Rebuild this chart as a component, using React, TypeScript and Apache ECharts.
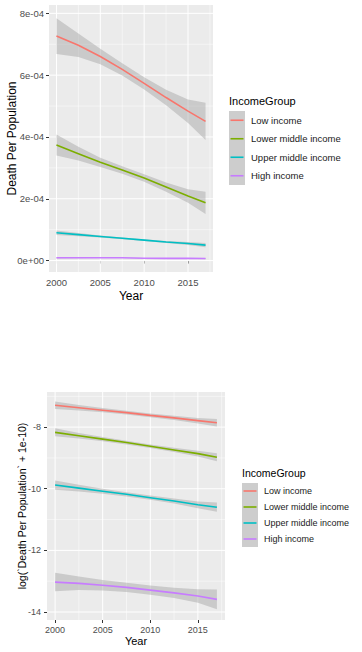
import React, { useEffect, useRef } from 'react';
import * as echarts from 'echarts';

const groups = ['Low income', 'Lower middle income', 'Upper middle income', 'High income'];
const groupColors = ['#F8766D', '#7CAE00', '#00BFC4', '#C77CFF'];
const legendTitle = 'IncomeGroup';
const years = [2000, 2002.5, 2005, 2007.5, 2010, 2012.5, 2015, 2017];

// Top chart: Death Per Population (loess fit and half-width of CI band)
const rateLow = [7.265e-4, 6.965e-4, 6.605e-4, 6.185e-4, 5.735e-4, 5.275e-4, 4.835e-4, 4.505e-4];
const rateLowSe = [0.58e-4, 0.38e-4, 0.25e-4, 0.2e-4, 0.2e-4, 0.25e-4, 0.38e-4, 0.6e-4];
const rateLowerMid = [3.74e-4, 3.46e-4, 3.18e-4, 2.93e-4, 2.67e-4, 2.38e-4, 2.09e-4, 1.87e-4];
const rateLowerMidSe = [0.34e-4, 0.22e-4, 0.15e-4, 0.12e-4, 0.12e-4, 0.15e-4, 0.22e-4, 0.36e-4];
const rateUpperMid = [0.9e-4, 0.84e-4, 0.78e-4, 0.72e-4, 0.66e-4, 0.6e-4, 0.55e-4, 0.5e-4];
const rateUpperMidSe = [0.07e-4, 0.05e-4, 0.035e-4, 0.03e-4, 0.03e-4, 0.035e-4, 0.05e-4, 0.07e-4];
const rateHigh = [0.09e-4, 0.09e-4, 0.09e-4, 0.09e-4, 0.075e-4, 0.07e-4, 0.07e-4, 0.065e-4];
const rateHighSe = [0.02e-4, 0.015e-4, 0.01e-4, 0.01e-4, 0.01e-4, 0.01e-4, 0.015e-4, 0.02e-4];

// Bottom chart: log(Death Per Population + 1e-10)
const logLow = [-7.29, -7.37, -7.45, -7.53, -7.62, -7.7, -7.79, -7.86];
const logLowSe = [0.12, 0.09, 0.07, 0.06, 0.06, 0.07, 0.09, 0.12];
const logLowerMid = [-8.17, -8.28, -8.39, -8.5, -8.62, -8.74, -8.86, -8.98];
const logLowerMidSe = [0.13, 0.09, 0.07, 0.06, 0.06, 0.07, 0.09, 0.13];
const logUpperMid = [-9.88, -9.98, -10.08, -10.18, -10.29, -10.4, -10.52, -10.6];
const logUpperMidSe = [0.15, 0.11, 0.08, 0.07, 0.07, 0.08, 0.11, 0.15];
const logHigh = [-13.03, -13.07, -13.13, -13.2, -13.29, -13.38, -13.48, -13.59];
const logHighSe = [0.3, 0.22, 0.17, 0.15, 0.15, 0.17, 0.22, 0.32];

// Ticks
const xTicks = [2000, 2005, 2010, 2015];
const xTickLabels = ['2000', '2005', '2010', '2015'];
const xMinor = [2002.5, 2007.5, 2012.5, 2017.5];
const topYTicks = [0, 2e-4, 4e-4, 6e-4, 8e-4];
const topYTickLabels = ['0e+00', '2e-04', '4e-04', '6e-04', '8e-04'];
const topYMinor = [1e-4, 3e-4, 5e-4, 7e-4];
const logYTicks = [-14, -12, -10, -8];
const logYTickLabels = ['-14', '-12', '-10', '-8'];
const logYMinor = [-13, -11, -9, -7];

const FONT = '"Liberation Sans", Arial, sans-serif';

function labelFor(ticks: number[], labels: string[]) {
  return (v: number) => {
    const span = Math.max(...ticks.map(Math.abs)) || 1;
    const i = ticks.findIndex((t) => Math.abs(t - v) < span * 1e-6);
    return i >= 0 ? labels[i] : '';
  };
}

export default function App() {
  const ref = useRef<HTMLDivElement>(null);

  useEffect(() => {
    if (!ref.current) return;
    const chart = echarts.init(ref.current, undefined, { renderer: 'svg' });

    const charts = [
      {
        fits: [rateLow, rateLowerMid, rateUpperMid, rateHigh],
        ses: [rateLowSe, rateLowerMidSe, rateUpperMidSe, rateHighSe],
        yMinor: topYMinor,
        yMajor: topYTicks,
        refY: topYTicks[0],
      },
      {
        fits: [logLow, logLowerMid, logUpperMid, logHigh],
        ses: [logLowSe, logLowerMidSe, logUpperMidSe, logHighSe],
        yMinor: logYMinor,
        yMajor: logYTicks,
        refY: logYTicks[0],
      },
    ];

    const series: any[] = [];
    charts.forEach((c, ci) => {
      // grid lines: [orientation (0 vertical / 1 horizontal), value, width]
      const gridRows: number[][] = [
        ...xMinor.map((v) => [0, v, 0.5]),
        ...c.yMinor.map((v) => [1, v, 0.5]),
        ...xTicks.map((v) => [0, v, 1]),
        ...c.yMajor.map((v) => [1, v, 1]),
      ];
      series.push({
        type: 'custom',
        name: `grid-${ci}`,
        xAxisIndex: ci,
        yAxisIndex: ci,
        silent: true,
        z: 1,
        data: gridRows.map(() => [xTicks[0], c.refY]),
        renderItem: (params: any, api: any) => {
          const row = gridRows[params.dataIndex];
          const cs = params.coordSys;
          if (row[0] === 0) {
            const x = api.coord([row[1], c.refY])[0];
            return {
              type: 'line',
              shape: { x1: x, y1: cs.y, x2: x, y2: cs.y + cs.height },
              style: { stroke: '#FFFFFF', lineWidth: row[2] },
            };
          }
          const y = api.coord([xTicks[0], row[1]])[1];
          return {
            type: 'line',
            shape: { x1: cs.x, y1: y, x2: cs.x + cs.width, y2: y },
            style: { stroke: '#FFFFFF', lineWidth: row[2] },
          };
        },
      });

      c.fits.forEach((fit, gi) => {
        const se = c.ses[gi];
        const rows = years.map((x, i) => [x, fit[i] - se[i], fit[i] + se[i]]);
        series.push({
          type: 'custom',
          name: `band-${ci}-${gi}`,
          xAxisIndex: ci,
          yAxisIndex: ci,
          silent: true,
          z: 2,
          data: rows.map((r) => [r[0], r[1]]),
          renderItem: (params: any, api: any) => {
            if (params.dataIndex !== 0) return null;
            const upper = rows.map((r) => api.coord([r[0], r[2]]));
            const lower = rows.map((r) => api.coord([r[0], r[1]])).reverse();
            return {
              type: 'polygon',
              shape: { points: [...upper, ...lower] },
              style: { fill: 'rgba(153,153,153,0.4)', stroke: 'none' },
            };
          },
        });
      });

      c.fits.forEach((fit, gi) => {
        series.push({
          type: 'line',
          name: groups[gi],
          xAxisIndex: ci,
          yAxisIndex: ci,
          data: years.map((x, i) => [x, fit[i]]),
          symbol: 'none',
          z: 3,
          color: groupColors[gi],
          lineStyle: { width: 1.6, color: groupColors[gi] },
        });
      });
    });

    const tickStyle = { show: true, length: 3, lineStyle: { color: '#333333', width: 1 } };
    const axisCommon = {
      type: 'value',
      axisLine: { show: false },
      splitLine: { show: false },
      minorSplitLine: { show: false },
      nameMoveOverlap: false,
    };

    const legendGraphics: any[] = [];
    const legends = [
      { x: 229, top: 111, pitch: 18.5, titleY: 101, titleSize: 11, textSize: 9.5 },
      { x: 242, top: 483, pitch: 16, titleY: 473, titleSize: 10.5, textSize: 9 },
    ];
    legends.forEach((L) => {
      legendGraphics.push({
        type: 'rect',
        x: L.x,
        y: L.top,
        z: 10,
        shape: { width: 16, height: L.pitch * groups.length },
        style: { fill: '#CDCDCD' },
      });
      legendGraphics.push({
        type: 'text',
        x: L.x,
        y: L.titleY,
        z: 10,
        style: { text: legendTitle, font: `${L.titleSize}px ${FONT}`, fill: '#000000', verticalAlign: 'middle' },
      });
      groups.forEach((g, i) => {
        const cy = L.top + L.pitch * i + L.pitch / 2;
        legendGraphics.push({
          type: 'line',
          z: 11,
          shape: { x1: L.x + 1.5, y1: cy, x2: L.x + 14.5, y2: cy },
          style: { stroke: groupColors[i], lineWidth: 1.6 },
        });
        legendGraphics.push({
          type: 'text',
          x: L.x + 22,
          y: cy,
          z: 11,
          style: { text: g, font: `${L.textSize}px ${FONT}`, fill: '#1A1A1A', verticalAlign: 'middle' },
        });
      });
    });

    const option: any = {
      animation: false,
      textStyle: { fontFamily: FONT },
      grid: [
        { left: 49, top: 5, width: 164, height: 267, show: true, backgroundColor: '#EBEBEB', borderWidth: 0 },
        { left: 47, top: 392, width: 178, height: 228, show: true, backgroundColor: '#EBEBEB', borderWidth: 0 },
      ],
      xAxis: [
        {
          ...axisCommon,
          gridIndex: 0,
          min: 1999.15,
          max: 2017.85,
          axisTick: { ...tickStyle, customValues: xTicks },
          axisLabel: {
            customValues: xTicks,
            formatter: labelFor(xTicks, xTickLabels),
            color: '#4D4D4D',
            fontSize: 9.5,
            margin: 5,
            fontFamily: FONT,
          },
          name: 'Year',
          nameLocation: 'middle',
          nameGap: 18,
          nameTextStyle: { fontSize: 12, color: '#000000', fontFamily: FONT },
        },
        {
          ...axisCommon,
          gridIndex: 1,
          min: 1999.15,
          max: 2017.85,
          axisTick: { ...tickStyle, customValues: xTicks },
          axisLabel: {
            customValues: xTicks,
            formatter: labelFor(xTicks, xTickLabels),
            color: '#4D4D4D',
            fontSize: 9,
            margin: 5,
            fontFamily: FONT,
          },
          name: 'Year',
          nameLocation: 'middle',
          nameGap: 15,
          nameTextStyle: { fontSize: 11, color: '#000000', fontFamily: FONT },
        },
      ],
      yAxis: [
        {
          ...axisCommon,
          gridIndex: 0,
          min: -0.37e-4,
          max: 8.27e-4,
          axisTick: { ...tickStyle, customValues: topYTicks },
          axisLabel: {
            customValues: topYTicks,
            formatter: labelFor(topYTicks, topYTickLabels),
            color: '#4D4D4D',
            fontSize: 9.5,
            margin: 5,
            fontFamily: FONT,
          },
          name: 'Death Per Population',
          nameLocation: 'middle',
          nameGap: 31,
          nameTextStyle: { fontSize: 12, color: '#000000', fontFamily: FONT },
        },
        {
          ...axisCommon,
          gridIndex: 1,
          min: -14.26,
          max: -6.86,
          axisTick: { ...tickStyle, customValues: logYTicks },
          axisLabel: {
            customValues: logYTicks,
            formatter: labelFor(logYTicks, logYTickLabels),
            color: '#4D4D4D',
            fontSize: 9,
            margin: 6,
            fontFamily: FONT,
          },
          name: 'log(`Death Per Population` + 1e-10)',
          nameLocation: 'middle',
          nameGap: 20,
          nameTextStyle: { fontSize: 10.5, color: '#000000', fontFamily: FONT },
        },
      ],
      graphic: legendGraphics,
      series,
    };

    chart.setOption(option);
    return () => chart.dispose();
  }, []);

  return (
    <div
      ref={ref}
      style={{ position: 'absolute', left: 0, top: 0, width: 362, height: 652, background: '#FFFFFF' }}
    />
  );
}
